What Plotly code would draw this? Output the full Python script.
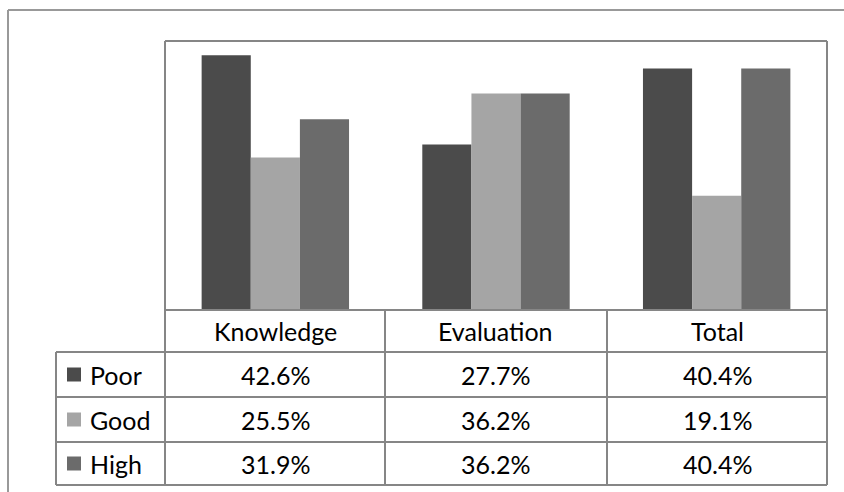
import plotly.graph_objects as go

# Survey results by domain and level
categories = ["Knowledge", "Evaluation", "Total"]
levels = ["Poor", "Good", "High"]
poor = [42.6, 27.7, 40.4]
good = [25.5, 36.2, 19.1]
high = [31.9, 36.2, 40.4]
series = [poor, good, high]
colors = ["#4b4b4b", "#a5a5a5", "#6b6b6b"]

W, H = 844, 492
FONT = "Lato"
FSIZE = 25
LINE = "#868686"


def px(x):
    return x / W


def py(y):
    return 1 - y / H


# layout grid (pixels)
plot_left, plot_right = 165, 827
plot_top, plot_bottom = 41, 310
legend_left = 56
col_edges = [165, 385, 607, 827]
row_edges = [310, 352, 397, 442, 485]

fig = go.Figure()
for name, vals, c in zip(levels, series, colors):
    fig.add_trace(go.Bar(x=categories, y=vals, name=name,
                         marker=dict(color=c, line=dict(width=0)),
                         showlegend=False))

shapes = []


def hline(y, x0, x1, color=LINE, w=2):
    shapes.append(dict(type="line", xref="paper", yref="paper",
                       x0=px(x0), x1=px(x1), y0=py(y), y1=py(y),
                       line=dict(color=color, width=w)))


def vline(x, y0, y1, color=LINE, w=2):
    shapes.append(dict(type="line", xref="paper", yref="paper",
                       x0=px(x), x1=px(x), y0=py(y0), y1=py(y1),
                       line=dict(color=color, width=w)))


# outer chart frame
hline(10, 8, W, "#999999")
vline(8, 10, H, "#999999")

# plot area frame
hline(plot_top, plot_left, plot_right)
vline(plot_left, plot_top, row_edges[-1])
vline(plot_right, plot_top, row_edges[-1])

# data table grid
hline(row_edges[0], plot_left, plot_right)
for y in row_edges[1:]:
    hline(y, legend_left, plot_right)
for x in col_edges[1:-1]:
    vline(x, row_edges[0], row_edges[-1])
vline(legend_left, row_edges[1], row_edges[-1])

annotations = []
# column headers
for i, cat in enumerate(categories):
    annotations.append(dict(
        x=px((col_edges[i] + col_edges[i + 1]) / 2),
        y=py((row_edges[0] + row_edges[1]) / 2),
        xref="paper", yref="paper", text=cat, showarrow=False,
        font=dict(family=FONT, size=FSIZE, color="#000000"),
        xanchor="center", yanchor="middle"))

# rows: legend key, label, values
for r, (name, vals, c) in enumerate(zip(levels, series, colors)):
    yc = (row_edges[r + 1] + row_edges[r + 2]) / 2
    shapes.append(dict(type="rect", xref="paper", yref="paper",
                       x0=px(67), x1=px(81), y0=py(yc - 7), y1=py(yc + 7),
                       fillcolor=c, line=dict(width=0)))
    annotations.append(dict(
        x=px(88), y=py(yc), xref="paper", yref="paper", text=name,
        showarrow=False, font=dict(family=FONT, size=FSIZE, color="#000000"),
        xanchor="left", yanchor="middle"))
    for i, v in enumerate(vals):
        annotations.append(dict(
            x=px((col_edges[i] + col_edges[i + 1]) / 2), y=py(yc),
            xref="paper", yref="paper", text=f"{v:.1f}%", showarrow=False,
            font=dict(family=FONT, size=FSIZE, color="#000000"),
            xanchor="center", yanchor="middle"))

fig.update_layout(
    width=W, height=H,
    margin=dict(l=0, r=0, t=0, b=0),
    paper_bgcolor="white", plot_bgcolor="white",
    barmode="group", bargap=0.332, bargroupgap=0,
    xaxis=dict(domain=[px(plot_left), px(plot_right)], showticklabels=False,
               showgrid=False, zeroline=False, showline=False, ticks=""),
    yaxis=dict(domain=[py(plot_bottom), py(plot_top)], range=[0, 45],
               showticklabels=False, showgrid=False, zeroline=False,
               showline=False, ticks=""),
    shapes=shapes, annotations=annotations,
)

fig.write_html("out.html")
